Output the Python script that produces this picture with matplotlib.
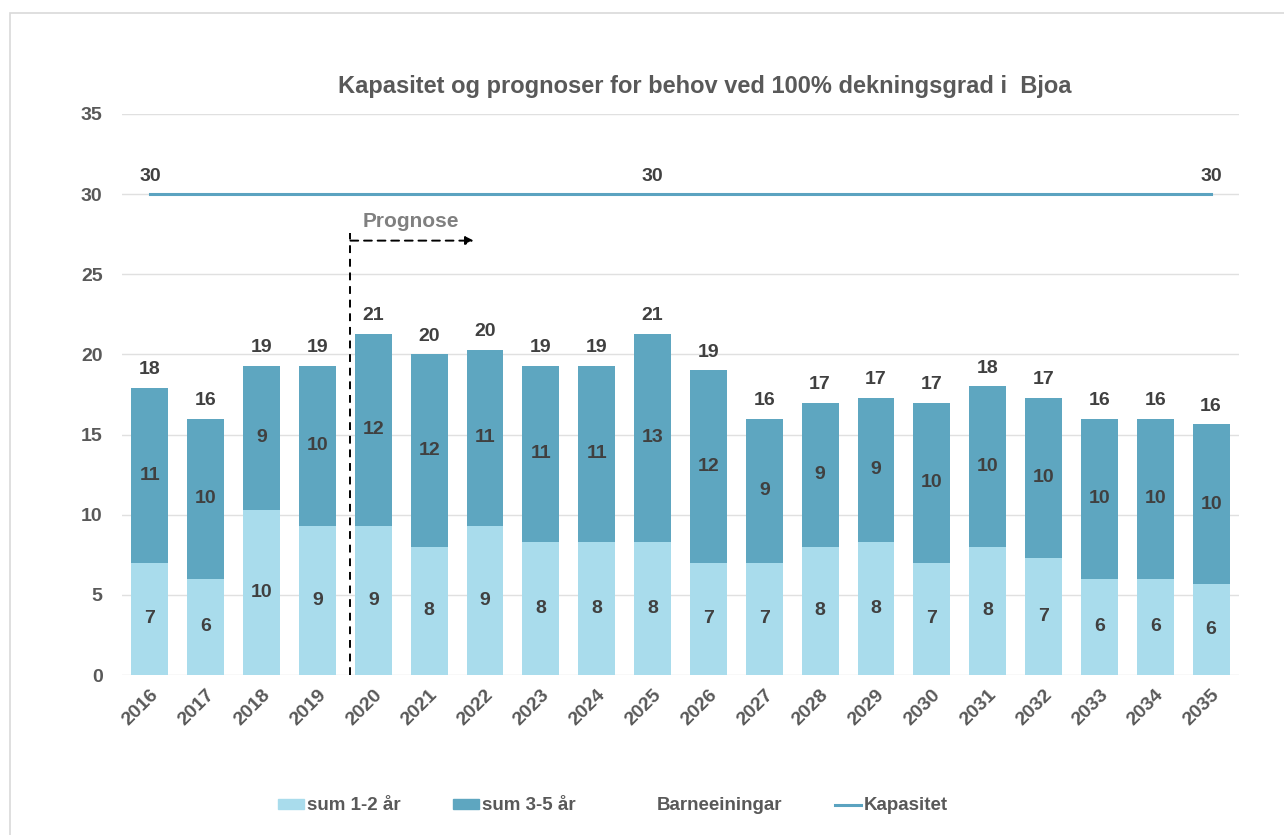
import numpy as np
import matplotlib.pyplot as plt
from matplotlib.patches import Patch, Rectangle
from matplotlib.lines import Line2D

plt.rcParams['font.family'] = ['Liberation Sans', 'DejaVu Sans']
plt.rcParams['font.weight'] = 'bold'

years = [str(y) for y in range(2016, 2036)]
sum_1_2 = [7.0, 6.0, 10.3, 9.3, 9.3, 8.0, 9.3, 8.3, 8.3, 8.3,
           7.0, 7.0, 8.0, 8.3, 7.0, 8.0, 7.3, 6.0, 6.0, 5.65]
sum_3_5 = [10.9, 10.0, 9.0, 10.0, 12.0, 12.0, 11.0, 11.0, 11.0, 13.0,
           12.0, 9.0, 9.0, 9.0, 10.0, 10.0, 10.0, 10.0, 10.0, 10.0]
kapasitet = [30] * 20
kap_label_idx = [0, 9, 19]

c_light = '#a9dcec'
c_dark = '#5ea6c0'
c_line = '#5ba3c0'
c_text = '#404040'
c_tick = '#595959'
fs = 14

x = np.arange(len(years))
light = np.array(sum_1_2)
dark = np.array(sum_3_5)
total = light + dark

fig = plt.figure(figsize=(12.84, 8.35), dpi=100)
ax = fig.add_axes([122 / 1284, 1 - 675 / 835, (1239 - 122) / 1284, (675 - 114) / 835])

# outer frame
fig.patches.append(Rectangle((10 / 1284, -0.1), 1.2, 1 - 13 / 835 + 0.1,
                             transform=fig.transFigure, fill=False,
                             edgecolor='#d9d9d9', lw=1.2))

ax.bar(x, light, width=0.66, color=c_light, zorder=2)
ax.bar(x, dark, width=0.66, bottom=light, color=c_dark, zorder=2)
ax.plot(x, kapasitet, color=c_line, lw=2.2, zorder=3)

for i in range(len(x)):
    ax.text(x[i], light[i] / 2, f'{light[i]:.0f}', ha='center', va='center',
            fontsize=fs, color=c_text, fontweight='bold', zorder=4)
    ax.text(x[i], light[i] + dark[i] / 2, f'{dark[i]:.0f}', ha='center', va='center',
            fontsize=fs, color=c_text, fontweight='bold', zorder=4)
    ax.text(x[i], total[i] + 0.6, f'{total[i]:.0f}', ha='center', va='bottom',
            fontsize=fs, color=c_text, fontweight='bold', zorder=4)
for i in kap_label_idx:
    ax.text(x[i], kapasitet[i] + 0.6, f'{kapasitet[i]}', ha='center', va='bottom',
            fontsize=fs, color=c_text, fontweight='bold')

# prognose marker
ax.plot([3.59, 3.59], [0, 27.6], ls=(0, (4, 3)), color='black', lw=1.4, zorder=5)
ax.annotate('', xy=(5.8, 27.1), xytext=(3.59, 27.1),
            arrowprops=dict(arrowstyle='-|>', ls=(0, (4, 3)), color='black', lw=1.4,
                            mutation_scale=12, shrinkA=0, shrinkB=0))
ax.text(4.68, 28.3, 'Prognose', ha='center', va='center', fontsize=15,
        color='#808080', fontweight='bold')

ax.set_xlim(-0.5, 19.5)
ax.set_ylim(0, 35)
ax.set_yticks(range(0, 36, 5))
ax.set_xticks(x)
ax.set_xticklabels(years, rotation=45, ha='right', rotation_mode='anchor')
ax.tick_params(axis='both', length=0, labelsize=fs, colors=c_tick)
ax.tick_params(axis='y', pad=14)
ax.tick_params(axis='x', pad=8)
for lbl in ax.get_xticklabels() + ax.get_yticklabels():
    lbl.set_fontweight('bold')
ax.grid(axis='y', color='#e0e0e0', lw=1, zorder=0)
ax.set_axisbelow(True)
for s in ax.spines.values():
    s.set_visible(False)

fig.text(705 / 1284, 1 - 86 / 835, 'Kapasitet og prognoser for behov ved 100% dekningsgrad i  Bjoa',
         ha='center', va='center', fontsize=17, color=c_tick, fontweight='bold')

handles = [Patch(color=c_light), Patch(color=c_dark),
           Patch(facecolor='none', edgecolor='none'),
           Line2D([], [], color=c_line, lw=2.2)]
labels = ['sum 1-2 år', 'sum 3-5 år', 'Barneeiningar', 'Kapasitet']
leg = fig.legend(handles, labels, loc='center', bbox_to_anchor=(613 / 1284, 1 - 806 / 835),
                 ncol=4, frameon=False, fontsize=13.5, handlelength=1.4, handleheight=0.5,
                 handletextpad=0.15, columnspacing=2.8)
for t in leg.get_texts():
    t.set_color(c_tick)
    t.set_fontweight('bold')

fig.savefig('out.png', dpi=100)
